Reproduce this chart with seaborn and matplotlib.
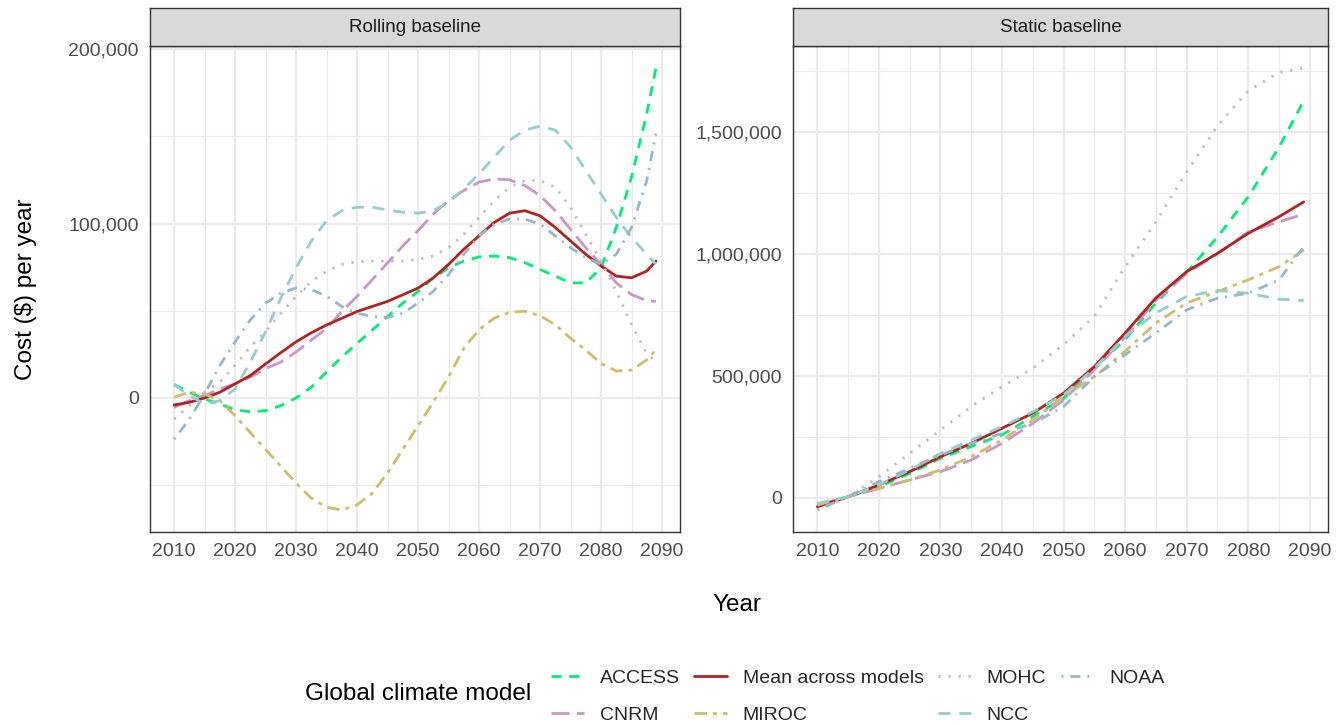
import numpy as np
import pandas as pd
import matplotlib
matplotlib.use("Agg")
import matplotlib.pyplot as plt
from matplotlib.lines import Line2D
from matplotlib.ticker import FuncFormatter, MultipleLocator
import seaborn as sns

models = ["ACCESS", "CNRM", "Mean across models", "MIROC", "MOHC", "NCC", "NOAA"]
panels = ["Rolling baseline", "Static baseline"]

# ---------------- Rolling baseline (thousand $ per year) ----------------
years_roll = [2010, 2012.5, 2015, 2017.5, 2020, 2022.5, 2025, 2027.5, 2030, 2032.5,
              2035, 2037.5, 2040, 2042.5, 2045, 2047.5, 2050, 2052.5, 2055, 2057.5,
              2060, 2062.5, 2065, 2067.5, 2070, 2072.5, 2075, 2077.5, 2080, 2082.5,
              2085, 2087.5, 2089]
roll_access = [7.7, 3.3, -0.6, -3.5, -6.8, -7.9, -7.3, -4.4, 0, 6.2, 14.9, 23.5, 31.3,
               39, 46.7, 54.4, 61, 68.9, 74.7, 78.5, 80.9, 81.4, 80.5, 77.6, 73.7, 69.9,
               66, 66, 74.7, 97.8, 126.7, 163.2, 189.2]
roll_cnrm = [-5.4, -1.5, 1.4, 5.2, 8.1, 12, 16.8, 20.6, 26.4, 33.2, 39.9, 49.6, 58.3,
             67.9, 77.5, 87.2, 96, 105.5, 113.2, 119, 123.8, 125.7, 125.1, 121.9, 116.1,
             107.4, 96.8, 86.2, 76.6, 66, 59.3, 55.8, 55.4]
roll_mean = [-4.0, -2.5, 0, 3.3, 8.1, 12.9, 19.5, 26, 32.2, 37.4, 41.9, 45.7, 49.6,
             52.5, 55.4, 59.2, 63, 68.9, 76.6, 85.3, 93, 100.7, 106, 107.4, 104.5, 97.8,
             90.1, 82.4, 75.7, 69.9, 68.9, 72.8, 78.5]
roll_miroc = [0.4, 3.3, 2.3, -1.5, -10.2, -19.9, -29.5, -39.2, -48.8, -57.5, -62.7,
              -64.2, -61.3, -54.6, -43, -29.5, -16, -2.3, 12.1, 28.5, 39.1, 45.8, 49.1,
              49.7, 47.2, 42, 34.3, 27.5, 19.8, 15.4, 16, 21.8, 27.5]
roll_mohc = [-12.2, -4.4, 3.3, 9.1, 18.7, 29.3, 38, 48.6, 58.3, 66.9, 72.7, 76.6, 78.1,
             78.5, 78.5, 78.5, 79.5, 81.4, 86.2, 93.9, 103.6, 113.2, 120.9, 124.7, 124.7,
             120.9, 109.3, 93.9, 78.5, 61.2, 42, 25.6, 20.8]
roll_ncc = [7.7, 1.4, -3.5, -1.5, 5.2, 20.6, 38, 57.3, 74.7, 90, 101.7, 107.4, 109.4,
            109.4, 107.8, 106.5, 106, 107.4, 112.2, 119.9, 128.6, 138.2, 147.8, 153.6,
            155.9, 153.6, 144, 130.5, 117, 103.6, 92, 82.4, 76.6]
roll_noaa = [-23.7, -12.2, 2.3, 18.7, 32.2, 44.8, 54.4, 60.2, 63.1, 62.1, 58.3, 52.5,
             48.6, 46.7, 46.1, 48.6, 54.5, 61.2, 70.8, 82.4, 93, 99.7, 102.6, 102.6, 99.7,
             93, 86.2, 80.5, 76.6, 82.4, 97.8, 124.7, 151.7]

# ---------------- Static baseline (thousand $ per year) ----------------
years_static = [2010, 2015, 2020, 2025, 2030, 2035, 2040, 2045, 2050, 2055, 2060,
                2065, 2070, 2075, 2080, 2085, 2089]
stat_access = [-30, 4, 45, 100, 162, 210, 258, 333, 408, 532, 649, 799, 925, 1070,
               1235, 1439, 1629]
stat_cnrm = [-30, 4, 38, 73, 107, 155, 223, 305, 401, 525, 660, 810, 920, 1000, 1091,
             1132, 1164]
stat_mean = [-37, 4, 52, 107, 168, 223, 285, 347, 429, 538, 676, 820, 928, 1003, 1085,
             1153, 1214]
stat_miroc = [-30, 4, 38, 73, 114, 168, 237, 319, 415, 497, 601, 717, 799, 846, 894,
              948, 1016]
stat_mohc = [-50, 4, 86, 182, 278, 374, 456, 531, 628, 744, 948, 1132, 1337, 1527, 1670,
             1745, 1763]
stat_ncc = [-23, 4, 52, 114, 182, 237, 292, 353, 422, 532, 662, 758, 826, 850, 839,
            815, 809]
stat_noaa = [-50, 4, 66, 120, 175, 223, 264, 305, 374, 497, 587, 676, 771, 819, 839,
             894, 1030]

roll = [roll_access, roll_cnrm, roll_mean, roll_miroc, roll_mohc, roll_ncc, roll_noaa]
stat = [stat_access, stat_cnrm, stat_mean, stat_miroc, stat_mohc, stat_ncc, stat_noaa]

rows = []
for pname, yrs, block in zip(panels, [years_roll, years_static], [roll, stat]):
    for m, vals in zip(models, block):
        for y, v in zip(yrs, vals):
            rows.append({"panel": pname, "model": m, "Year": y, "cost": v * 1000})
df = pd.DataFrame(rows)

colors = {"ACCESS": "#00EE76", "CNRM": "#C997C9", "Mean across models": "#B22222",
          "MIROC": "#CFBD6E", "MOHC": "#C8B6CC", "NCC": "#96CDCD", "NOAA": "#96B8C8"}
dashes = {"ACCESS": (3.6, 2.8), "CNRM": (6.5, 2.6), "Mean across models": "",
          "MIROC": (4.5, 2.2, 1.4, 2.2), "MOHC": (0.8, 2.8), "NCC": (4.3, 3.2),
          "NOAA": (0.7, 2.5, 3.6, 2.5)}

sns.set_theme(style="white")
plt.rcParams["font.family"] = ["Liberation Sans", "DejaVu Sans"]

W, H = 1338, 725
fig = plt.figure(figsize=(W / 100, H / 100), dpi=100)

def fx(px):
    return px / W

def fy(py):
    return 1 - py / H

panel_boxes = [(150, 680), (793, 1328)]
ptop, pbot = 46, 532
stop = 8

LW = 2.0
for i, (pname, (x0, x1)) in enumerate(zip(panels, panel_boxes)):
    ax = fig.add_axes([fx(x0), fy(pbot), fx(x1 - x0), (pbot - ptop) / H])
    sub = df[df.panel == pname]
    sns.lineplot(data=sub, x="Year", y="cost", hue="model", style="model",
                 hue_order=models, style_order=models, palette=colors,
                 dashes=dashes, linewidth=LW, ax=ax, legend=False, zorder=3)
    ax.set_xlim(2006.05, 2092.95)
    ax.margins(y=0.05)
    ax.set_xlabel("")
    ax.set_ylabel("")
    ax.set_facecolor("white")
    ax.xaxis.set_major_locator(MultipleLocator(10))
    ax.xaxis.set_minor_locator(MultipleLocator(5))
    if i == 0:
        ax.yaxis.set_major_locator(MultipleLocator(100000))
        ax.yaxis.set_minor_locator(MultipleLocator(50000))
    else:
        ax.yaxis.set_major_locator(MultipleLocator(500000))
        ax.yaxis.set_minor_locator(MultipleLocator(250000))
    ax.yaxis.set_major_formatter(FuncFormatter(lambda v, p: f"{int(round(v)):,}"))
    ax.grid(which="major", color="#ebebeb", linewidth=1.6, zorder=0)
    ax.grid(which="minor", color="#ebebeb", linewidth=0.8, zorder=0)
    ax.set_axisbelow(True)
    for s in ax.spines.values():
        s.set_color("#333333")
        s.set_linewidth(1.0)
    ax.tick_params(axis="both", which="major", length=5, width=1.0, color="#333333",
                   labelsize=14, labelcolor="#4d4d4d", pad=3)
    ax.tick_params(axis="both", which="minor", length=0)
    # facet strip
    sax = fig.add_axes([fx(x0), fy(ptop), fx(x1 - x0), (ptop - stop) / H])
    sax.set_facecolor("#d9d9d9")
    sax.set_xticks([])
    sax.set_yticks([])
    for s in sax.spines.values():
        s.set_color("#333333")
        s.set_linewidth(1.0)
    sax.text(0.5, 0.5, pname, ha="center", va="center", fontsize=13.5,
             color="#1a1a1a", transform=sax.transAxes)

fig.text(fx(26), fy(289), "Cost ($) per year", rotation=90, ha="center", va="center",
         fontsize=17.5, color="black")
fig.text(fx(737), fy(605), "Year", ha="center", va="center", fontsize=17.5, color="black")

handles = [Line2D([0], [0], color=colors[m], linewidth=LW,
                  linestyle=("-" if dashes[m] == "" else (0, dashes[m]))) for m in models]
leg = fig.legend(handles, models, ncol=4, loc="center left",
                 bbox_to_anchor=(fx(551), fy(696.5)), frameon=False, fontsize=14,
                 handlelength=1.7, handletextpad=0.8, columnspacing=0.74,
                 labelspacing=1.0, borderaxespad=0, borderpad=0)
fig.text(fx(305), fy(694), "Global climate model", ha="left", va="center",
         fontsize=17.5, color="black")

fig.savefig("out.png", dpi=100, facecolor="white")
